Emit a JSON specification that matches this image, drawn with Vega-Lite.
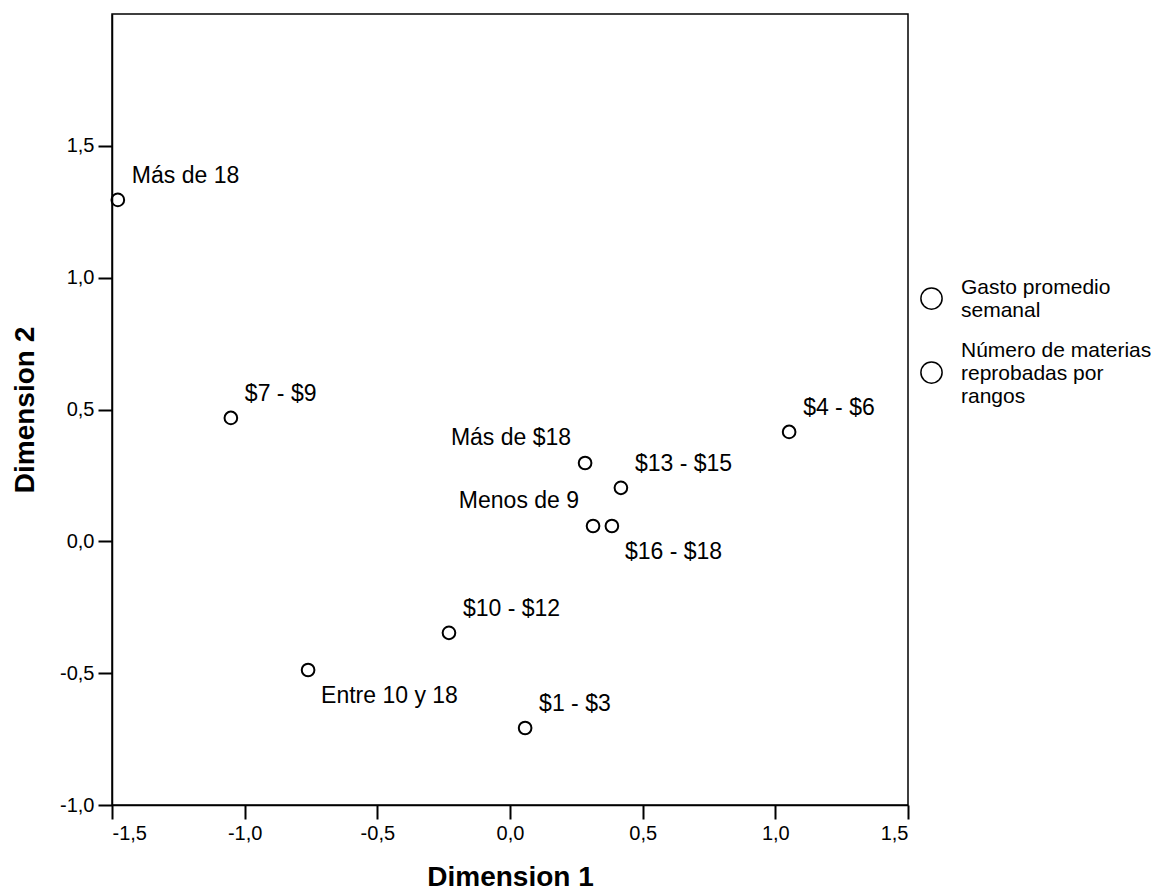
{
  "$schema": "https://vega.github.io/schema/vega-lite/v6.json",
  "width": 796,
  "height": 791,
  "autosize": {"type": "none"},
  "padding": {"left": 112, "top": 14, "right": 243, "bottom": 88},
  "background": "white",
  "config": {
    "font": "Liberation Sans",
    "view": {"stroke": "black", "strokeWidth": 1.5},
    "locale": {"number": {"decimal": ",", "thousands": ".", "grouping": [3], "currency": ["$", ""], "minus": "-"}},
    "axis": {
      "grid": false,
      "domainColor": "black",
      "domainWidth": 1.5,
      "tickColor": "black",
      "tickWidth": 2,
      "tickSize": 14,
      "labelColor": "black",
      "labelFont": "Liberation Sans",
      "labelFontSize": 20,
      "titleColor": "black",
      "titleFont": "Liberation Sans",
      "titleFontSize": 28,
      "titleFontWeight": "bold"
    }
  },
  "data": {
    "values": [
      {"dim1": -1.478, "dim2": 1.295, "label": "Más de 18", "series": "Número de materias reprobadas por rangos"},
      {"dim1": -1.052, "dim2": 0.468, "label": "$7 - $9", "series": "Gasto promedio semanal"},
      {"dim1": 1.052, "dim2": 0.415, "label": "$4 - $6", "series": "Gasto promedio semanal"},
      {"dim1": 0.283, "dim2": 0.297, "label": "Más de $18", "series": "Gasto promedio semanal"},
      {"dim1": 0.418, "dim2": 0.203, "label": "$13 - $15", "series": "Gasto promedio semanal"},
      {"dim1": 0.313, "dim2": 0.058, "label": "Menos de 9", "series": "Número de materias reprobadas por rangos"},
      {"dim1": 0.384, "dim2": 0.058, "label": "$16 - $18", "series": "Gasto promedio semanal"},
      {"dim1": -0.230, "dim2": -0.347, "label": "$10 - $12", "series": "Gasto promedio semanal"},
      {"dim1": -0.761, "dim2": -0.488, "label": "Entre 10 y 18", "series": "Número de materias reprobadas por rangos"},
      {"dim1": 0.057, "dim2": -0.708, "label": "$1 - $3", "series": "Gasto promedio semanal"}
    ]
  },
  "encoding": {
    "x": {
      "field": "dim1", "type": "quantitative",
      "scale": {"domain": [-1.5, 1.5], "nice": false, "zero": false},
      "axis": {"values": [-1.5, -1, -0.5, 0, 0.5, 1, 1.5], "format": ".1f", "title": "Dimension 1", "labelPadding": 4, "titlePadding": 20}
    },
    "y": {
      "field": "dim2", "type": "quantitative",
      "scale": {"domain": [-1, 2], "nice": false, "zero": false},
      "axis": {"values": [-1, -0.5, 0, 0.5, 1, 1.5], "format": ".1f", "title": "Dimension 2", "labelPadding": 4, "titlePadding": 20}
    }
  },
  "layer": [
    {
      "mark": {"type": "point", "filled": false, "size": 160, "strokeWidth": 2, "opacity": 1, "color": "black"}
    },
    {
      "transform": [{"filter": "false"}],
      "mark": {"type": "point", "filled": false, "color": "black", "opacity": 1},
      "encoding": {
        "shape": {
          "field": "series", "type": "nominal",
          "scale": {
            "domain": ["Gasto promedio semanal", "Número de materias reprobadas por rangos"],
            "range": [
              "M-1,1.04A1,1,0,1,1,1,1.04A1,1,0,1,1,-1,1.04Z",
              "M-1,2.08A1,1,0,1,1,1,2.08A1,1,0,1,1,-1,2.08Z"
            ]
          },
          "legend": {
            "title": null,
            "orient": "none",
            "legendX": 808,
            "legendY": 262,
            "symbolSize": 450,
            "symbolStrokeWidth": 1.5,
            "symbolStrokeColor": "black",
            "symbolFillColor": "transparent",
            "symbolOpacity": 1,
            "labelFontSize": 21,
            "labelFont": "Liberation Sans",
            "labelColor": "black",
            "labelLimit": 600,
            "labelOffset": 18,
            "rowPadding": 18,
            "labelExpr": "datum.label == 'Gasto promedio semanal' ? ['Gasto promedio', 'semanal'] : ['Número de materias', 'reprobadas por', 'rangos']"
          }
        }
      }
    },
    {
      "transform": [{"filter": "indexof(['Más de $18', 'Menos de 9', '$16 - $18', 'Entre 10 y 18'], datum.label) < 0"}],
      "mark": {"type": "text", "align": "left", "baseline": "middle", "dx": 14, "dy": -24, "fontSize": 23, "color": "black"},
      "encoding": {"text": {"field": "label"}}
    },
    {
      "transform": [{"filter": "indexof(['Más de $18', 'Menos de 9'], datum.label) >= 0"}],
      "mark": {"type": "text", "align": "right", "baseline": "middle", "dx": -14, "dy": -25, "fontSize": 23, "color": "black"},
      "encoding": {"text": {"field": "label"}}
    },
    {
      "transform": [{"filter": "indexof(['$16 - $18', 'Entre 10 y 18'], datum.label) >= 0"}],
      "mark": {"type": "text", "align": "left", "baseline": "middle", "dx": 13, "dy": 26, "fontSize": 23, "color": "black"},
      "encoding": {"text": {"field": "label"}}
    }
  ]
}
